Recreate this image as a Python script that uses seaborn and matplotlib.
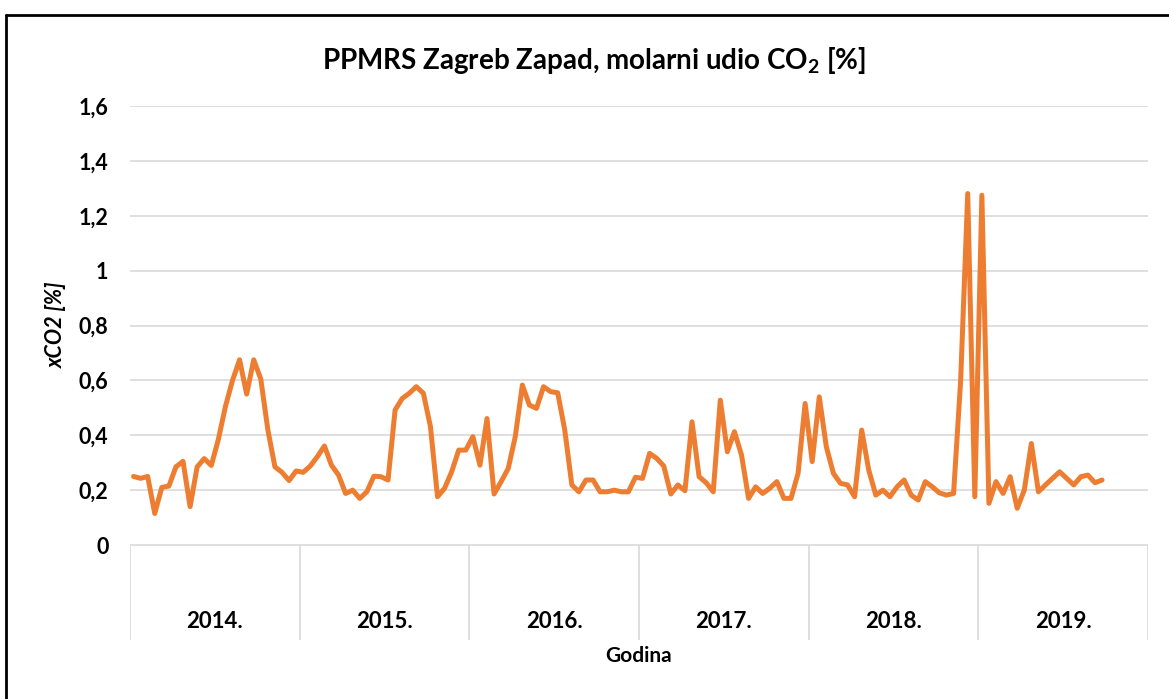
import numpy as np
import pandas as pd
import matplotlib
matplotlib.use('Agg')
import matplotlib.pyplot as plt
import seaborn as sns

# semi-monthly values, 24 per year (2019 only partial)
years = ['2014.', '2015.', '2016.', '2017.', '2018.', '2019.']
points_per_year = 24

y2014 = [0.25, 0.243, 0.25, 0.115, 0.21, 0.215, 0.285, 0.305, 0.14, 0.285, 0.315, 0.29,
         0.385, 0.505, 0.60, 0.675, 0.55, 0.675, 0.605, 0.42, 0.285, 0.265, 0.235, 0.27]
y2015 = [0.265, 0.288, 0.322, 0.361, 0.291, 0.255, 0.188, 0.2, 0.17, 0.194, 0.251, 0.249,
         0.237, 0.492, 0.534, 0.553, 0.577, 0.553, 0.431, 0.176, 0.207, 0.267, 0.346, 0.346]
y2016 = [0.395, 0.291, 0.461, 0.186, 0.231, 0.279, 0.395, 0.583, 0.51, 0.498, 0.577, 0.559,
         0.555, 0.419, 0.219, 0.194, 0.237, 0.237, 0.194, 0.194, 0.2, 0.194, 0.194, 0.247]
y2017 = [0.243, 0.334, 0.316, 0.288, 0.186, 0.219, 0.198, 0.449, 0.249, 0.227, 0.194, 0.528,
         0.34, 0.413, 0.328, 0.17, 0.212, 0.188, 0.207, 0.231, 0.17, 0.17, 0.261, 0.516]
y2018 = [0.304, 0.54, 0.358, 0.261, 0.225, 0.219, 0.176, 0.419, 0.273, 0.182, 0.2, 0.176,
         0.212, 0.237, 0.182, 0.164, 0.231, 0.212, 0.19, 0.182, 0.188, 0.6, 1.281, 0.176]
y2019 = [1.275, 0.152, 0.231, 0.188, 0.249, 0.134, 0.2, 0.37, 0.194, 0.219, 0.243, 0.267,
         0.243, 0.219, 0.249, 0.255, 0.227, 0.237]

yticks = [0, 0.2, 0.4, 0.6, 0.8, 1.0, 1.2, 1.4, 1.6]
ytick_labels = ['0', '0,2', '0,4', '0,6', '0,8', '1', '1,2', '1,4', '1,6']


def main():
    df = data()
    plot(df)


def data():
    values = y2014 + y2015 + y2016 + y2017 + y2018 + y2019
    df = pd.DataFrame({'idx': np.arange(len(values)), 'xco2': values})
    return df


def plot(df):
    sns.set_style('white')
    plt.rcParams['font.family'] = ['Lato', 'DejaVu Sans']
    plt.rcParams['mathtext.fontset'] = 'custom'
    plt.rcParams['mathtext.rm'] = 'Lato:bold'
    text_col = '#000000'
    grid_col = '#d9d9d9'

    fig = plt.figure(figsize=(11.69, 6.99), dpi=100)
    ax = fig.add_axes([130 / 1169, 1 - 640 / 699, 1018 / 1169, 534 / 699])

    n_cat = points_per_year * len(years)
    ybottom = -95 / 274.5

    sns.lineplot(data=df, x='idx', y='xco2', ax=ax, color='#ED7D31',
                 linewidth=3.6, solid_joinstyle='round', zorder=3)

    ax.set_xlim(-0.5, n_cat - 0.5)
    ax.set_ylim(ybottom, 1.6)
    ax.set_yticks(yticks)
    ax.set_yticklabels(ytick_labels, fontsize=15.5, fontweight='bold',
                       color=text_col)
    ax.set_xticks([])
    ax.tick_params(axis='y', length=0, pad=15.5)
    for s in ax.spines.values():
        s.set_visible(False)
    for yv in yticks:
        ax.axhline(yv, color=grid_col, lw=1.2, zorder=1)

    # year boxes below the plot
    bounds = np.arange(len(years) + 1) * points_per_year - 0.5
    ax.vlines(bounds, ybottom, 0, color=grid_col, lw=1.2, zorder=1)
    for k, yr in enumerate(years):
        ax.text(k * points_per_year + (points_per_year - 1) / 2, -0.28, yr,
                ha='center', va='center', fontsize=16, fontweight='bold',
                color=text_col)

    ax.set_xlabel('Godina', fontsize=15, fontweight='bold', color=text_col,
                  labelpad=4)
    ax.set_ylabel('xCO2 [%]', fontsize=15.5, fontweight='bold',
                  fontstyle='italic', color=text_col)
    ax.yaxis.set_label_coords(-0.062, 0.59)

    fig.text(594 / 1169, 1 - 60 / 699,
             r'PPMRS Zagreb Zapad, molarni udio CO$_\mathrm{2}$ [%]',
             ha='center', va='center', fontsize=20, fontweight='bold',
             color=text_col)

    # chart frame (cut off at right and bottom)
    fig.add_artist(plt.Line2D([6 / 1169, 1], [1 - 15 / 699, 1 - 15 / 699],
                              color='black', lw=2))
    fig.add_artist(plt.Line2D([6 / 1169, 6 / 1169], [0, 1 - 15 / 699],
                              color='black', lw=2))

    fig.savefig('out.png', dpi=100)


if __name__ == '__main__':
    main()
